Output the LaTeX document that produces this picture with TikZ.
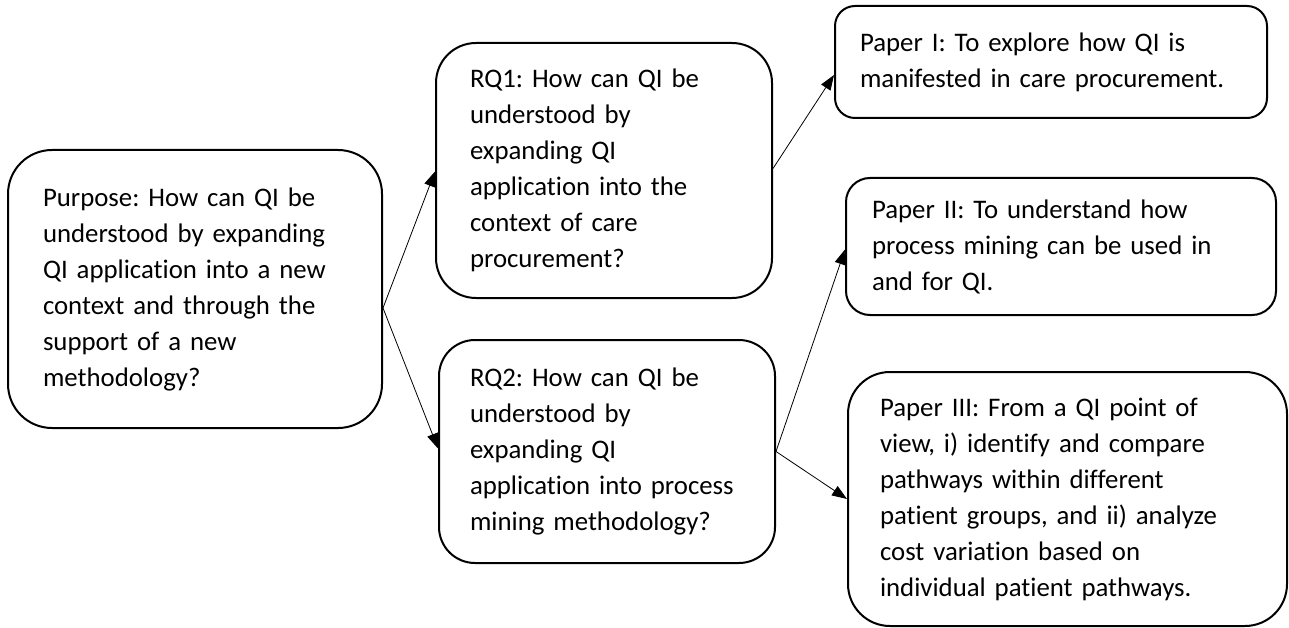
\documentclass[tikz,border=0pt]{standalone}
\usepackage{fontspec}
\setmainfont{Carlito}[Ligatures=NoCommon]
\usetikzlibrary{arrows.meta}
\frenchspacing
\begin{document}
\begin{tikzpicture}[
        x=1pt, y=-1pt,
        text_box/.style={draw, line width=2pt, inner ysep=0pt, align=left,
            font=\fontsize{26.8}{36}\selectfont},
        edge_arrow/.style={-{Triangle[length=15pt, width=11pt]}, line width=0.8pt}
    ]
        \useasboundingbox (0,0) rectangle (1289,628);
        % Purpose
        \node[text_box, rounded corners=44pt, inner xsep=35pt, text width=304pt, minimum height=278pt] (purpose) at (195,289)
            {Purpose: How can QI be\\understood by expanding\\QI application into a new\\context and through the\\support of a new\\methodology?};
        % Research questions
        \node[text_box, rounded corners=40pt, inner xsep=34pt, text width=268pt, minimum height=255pt] (rq1) at (604,170.5)
            {RQ1: How can QI be\\understood by\\expanding QI\\application into the\\context of care\\procurement?};
        \node[text_box, rounded corners=36pt, inner xsep=31pt, text width=274pt, minimum height=223pt] (rq2) at (607,451.5)
            {RQ2: How can QI be\\understood by\\expanding QI\\application into process\\mining methodology?};
        % Papers
        \node[text_box, rounded corners=20pt, inner xsep=25pt, text width=382pt, minimum height=112pt] (paper1) at (1051,62)
            {Paper I: To explore how QI is\\manifested in care procurement.};
        \node[text_box, rounded corners=24pt, inner xsep=26pt, text width=378pt, minimum height=137pt] (paper2) at (1061,246.5)
            {Paper II: To understand how\\process mining can be used in\\and for QI.};
        \node[text_box, rounded corners=42pt, inner xsep=32pt, text width=375pt, minimum height=254pt] (paper3) at (1067.5,499)
            {Paper III: From a QI point of\\view, i) identify and compare\\pathways within different\\patient groups, and ii) analyze\\cost variation based on\\individual patient pathways.};
        % Arrows
        \draw[edge_arrow] ([yshift=-19pt]purpose.east) -- ([yshift=-1pt]rq1.west);
        \draw[edge_arrow] ([yshift=-19pt]purpose.east) -- ([yshift=3pt]rq2.west);
        \draw[edge_arrow] ([yshift=2pt]rq1.east) -- ([yshift=-13pt]paper1.west);
        \draw[edge_arrow] (rq2.east) -- ([yshift=-3pt]paper2.west);
        \draw[edge_arrow] (rq2.east) -- (paper3.west);
\end{tikzpicture}
\end{document}
